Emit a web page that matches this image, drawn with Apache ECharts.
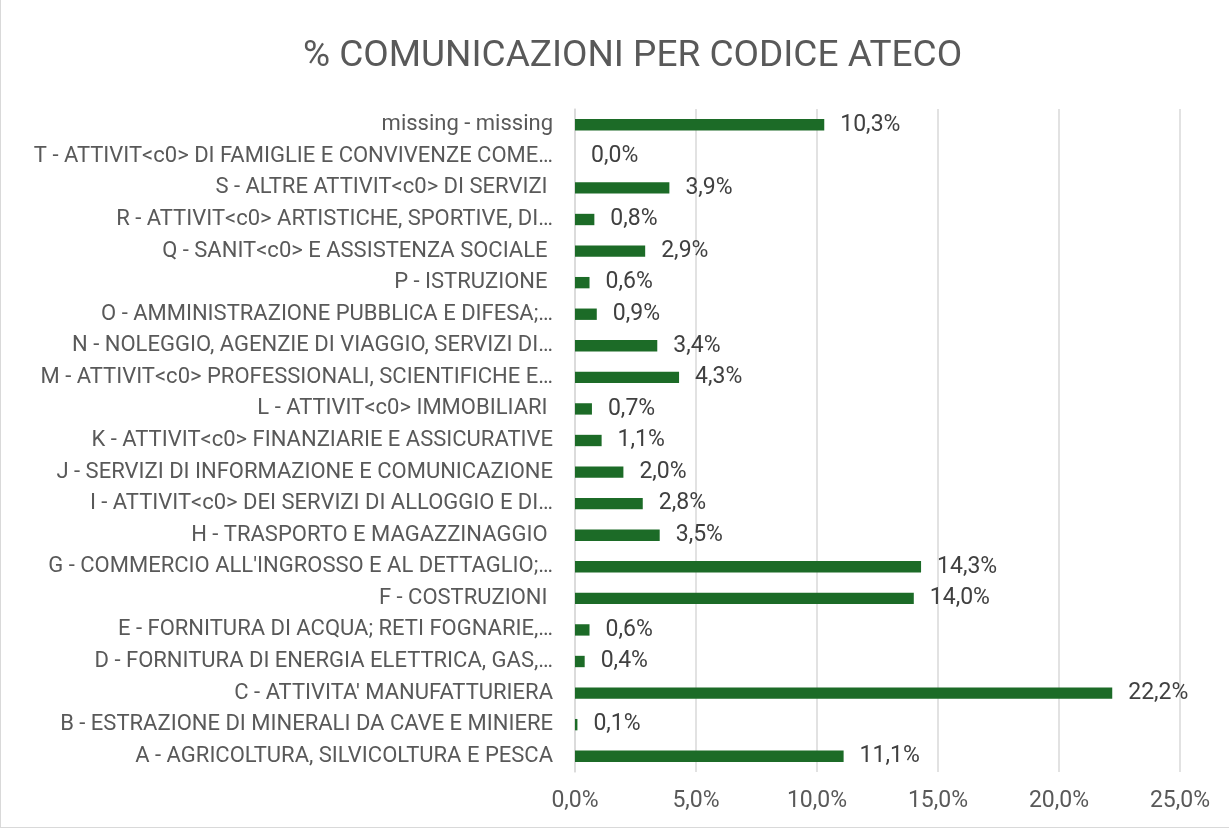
<!DOCTYPE html>
<html>
<head>
<meta charset="utf-8">
<script src="https://cdn.jsdelivr.net/npm/echarts@6/dist/echarts.min.js"></script>
<style>
  html, body { margin: 0; padding: 0; background: #fff; }
  #chart { width: 1229px; height: 828px; box-sizing: border-box; border-left: 1px solid #d9d9d9; border-bottom: 1px solid #d9d9d9; }
</style>
</head>
<body>
<div id="chart"></div>
<script>
const categories = [
  "A - AGRICOLTURA, SILVICOLTURA E PESCA",
  "B - ESTRAZIONE DI MINERALI DA CAVE E MINIERE",
  "C - ATTIVITA' MANUFATTURIERA",
  "D - FORNITURA DI ENERGIA ELETTRICA, GAS,…",
  "E - FORNITURA DI ACQUA; RETI FOGNARIE,…",
  "F - COSTRUZIONI ",
  "G - COMMERCIO ALL'INGROSSO E AL DETTAGLIO;…",
  "H - TRASPORTO E MAGAZZINAGGIO ",
  "I - ATTIVIT<c0> DEI SERVIZI DI ALLOGGIO E DI…",
  "J - SERVIZI DI INFORMAZIONE E COMUNICAZIONE",
  "K - ATTIVIT<c0> FINANZIARIE E ASSICURATIVE",
  "L - ATTIVIT<c0> IMMOBILIARI ",
  "M - ATTIVIT<c0> PROFESSIONALI, SCIENTIFICHE E…",
  "N - NOLEGGIO, AGENZIE DI VIAGGIO, SERVIZI DI…",
  "O - AMMINISTRAZIONE PUBBLICA E DIFESA;…",
  "P - ISTRUZIONE ",
  "Q - SANIT<c0> E ASSISTENZA SOCIALE ",
  "R - ATTIVIT<c0> ARTISTICHE, SPORTIVE, DI…",
  "S - ALTRE ATTIVIT<c0> DI SERVIZI ",
  "T - ATTIVIT<c0> DI FAMIGLIE E CONVIVENZE COME…",
  "missing - missing"
];
const shares = [11.1, 0.1, 22.2, 0.4, 0.6, 14.0, 14.3, 3.5, 2.8, 2.0, 1.1, 0.7, 4.3, 3.4, 0.9, 0.6, 2.9, 0.8, 3.9, 0.0, 10.3];
const tickMax = 25;
const tickStep = 5;

const fmt = (v) => v.toFixed(1).replace(".", ",") + "%";
const font = "Roboto, sans-serif";

const chart = echarts.init(document.getElementById("chart"));
chart.setOption({
  animation: false,
  title: {
    text: "% COMUNICAZIONI PER CODICE ATECO",
    left: 297,
    top: 33,
    textStyle: { color: "#595959", fontSize: 37, fontWeight: "normal", fontFamily: font }
  },
  grid: { left: 574, right: 49, top: 109, bottom: 55, outerBoundsMode: "none" },
  xAxis: {
    type: "value",
    min: 0,
    max: tickMax,
    interval: tickStep,
    axisLine: { show: false },
    axisTick: { show: false },
    splitLine: { lineStyle: { color: "#d9d9d9", width: 1.5 } },
    axisLabel: { color: "#595959", fontSize: 23, fontFamily: font, margin: 18, formatter: fmt }
  },
  yAxis: {
    type: "category",
    data: categories,
    axisLine: { lineStyle: { color: "#d9d9d9", width: 1.5 } },
    axisTick: { show: false },
    axisLabel: { color: "#595959", fontSize: 22, fontFamily: font, margin: 22 }
  },
  series: [{
    type: "bar",
    data: shares,
    barWidth: "36%",
    itemStyle: { color: "#1c6b27" },
    label: {
      show: true,
      position: "right",
      distance: 16,
      color: "#404040",
      fontSize: 23,
      fontFamily: font,
      formatter: (p) => fmt(p.value)
    }
  }]
});
</script>
</body>
</html>
